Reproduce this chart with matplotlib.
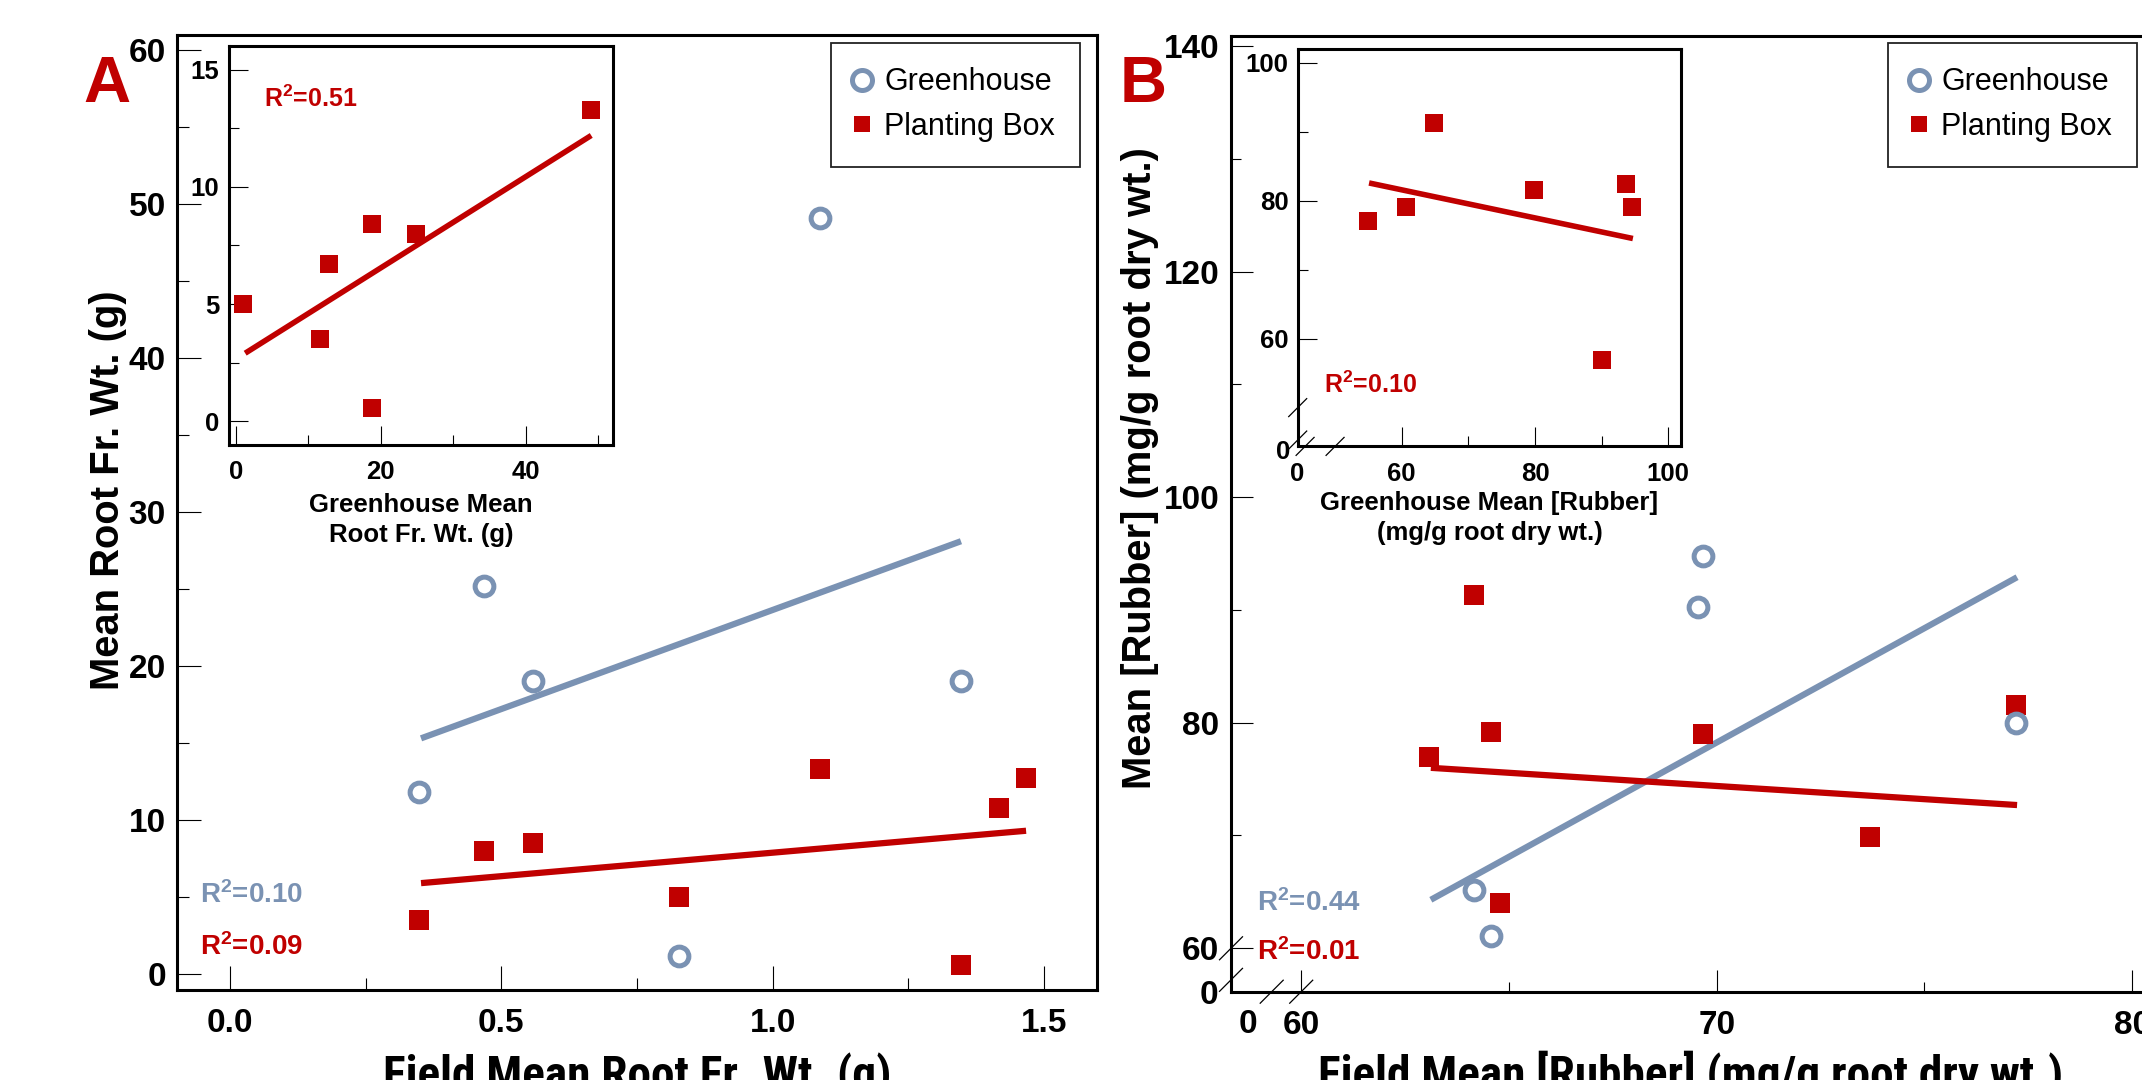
import matplotlib
matplotlib.use("Agg")
import matplotlib.pyplot as plt
from matplotlib.lines import Line2D

W, H = 2142, 1080
BLUE = "#7A92B3"
RED = "#C00000"

# ---- panel A: root fresh weight
A_GH_X = [0.348, 0.468, 0.559, 0.827, 1.087, 1.347]
A_GH_Y = [11.8, 25.2, 19.0, 1.2, 49.1, 19.0]
A_PB_X = [0.348, 0.468, 0.559, 0.827, 1.088, 1.347, 1.418, 1.467]
A_PB_Y = [3.5, 8.0, 8.5, 5.0, 13.3, 0.6, 10.8, 12.7]
A_GH_FIT_X, A_GH_FIT_Y = [0.352, 1.347], [15.3, 28.1]
A_PB_FIT_X, A_PB_FIT_Y = [0.352, 1.467], [5.9, 9.3]
A_IN_X = [1.0, 11.6, 12.8, 18.8, 18.8, 24.9, 48.9]
A_IN_Y = [5.0, 3.5, 6.7, 8.4, 0.55, 8.0, 13.3]
A_IN_FIT_X, A_IN_FIT_Y = [1.3, 49.0], [2.9, 12.2]
A_XTICKS, A_XMINOR = [0.0, 0.5, 1.0, 1.5], [0.25, 0.75, 1.25]
A_YTICKS, A_YMINOR = [0, 10, 20, 30, 40, 50, 60], [5, 15, 25, 35, 45, 55]
A_IN_XTICKS, A_IN_XMINOR = [0, 20, 40], [10, 30, 50]
A_IN_YTICKS, A_IN_YMINOR = [0, 5, 10, 15], [2.5, 7.5, 12.5]

# ---- panel B: rubber concentration
B_GH_X = [64.16, 64.56, 69.55, 69.67, 77.20]
B_GH_Y = [65.2, 61.1, 90.3, 94.8, 80.0]
B_PB_X = [63.07, 64.16, 64.56, 64.79, 69.67, 73.68, 77.20]
B_PB_Y = [77.0, 91.3, 79.2, 64.0, 79.0, 69.9, 81.6]
B_GH_FIT_X, B_GH_FIT_Y = [63.12, 77.23], [64.3, 92.9]
B_PB_FIT_X, B_PB_FIT_Y = [63.12, 77.23], [76.0, 72.7]
B_IN_X = [54.96, 60.71, 64.86, 79.83, 93.65, 94.54, 90.09]
B_IN_Y = [77.0, 79.1, 91.3, 81.5, 82.4, 79.0, 56.9]
B_IN_FIT_X, B_IN_FIT_Y = [55.1, 94.7], [82.55, 74.5]
B_XTICKS, B_XMINOR = [60, 70, 80], [65, 75]
B_YTICKS, B_YMINOR = [60, 80, 100, 120, 140], [70, 90, 110, 130]
B_IN_XTICKS, B_IN_XMINOR = [60, 80, 100], [70, 90]
B_IN_YTICKS, B_IN_YMINOR = [60, 80, 100], [70, 90]

plt.rcParams["font.family"] = ["Liberation Sans", "DejaVu Sans"]
plt.rcParams["font.weight"] = "bold"
plt.rcParams["mathtext.fontset"] = "custom"
plt.rcParams["mathtext.rm"] = "Liberation Sans:bold"
plt.rcParams["mathtext.it"] = "Liberation Sans:bold"
plt.rcParams["mathtext.bf"] = "Liberation Sans:bold"
NARROW = ["Liberation Sans Narrow", "Roboto Condensed", "Barlow Semi Condensed"]

fig = plt.figure(figsize=(W / 100, H / 100), dpi=100)


def box(l, t, r, b):
    return [l / W, 1 - b / H, (r - l) / W, (b - t) / H]


def fx(px):
    return px / W


def fy(py):
    return 1 - py / H


def style(ax, major, minor, size, padx, pady):
    for s in ax.spines.values():
        s.set_linewidth(2.2)
    ax.tick_params(which="both", direction="in", top=False, right=False,
                   width=0.8, labelsize=size)
    ax.tick_params(which="major", length=major)
    ax.tick_params(which="minor", length=minor)
    ax.tick_params(axis="x", pad=padx)
    ax.tick_params(axis="y", pad=pady)


def slash(ax, x, y, half):
    # small "//" axis-break mark centred on a data point of the spine
    xa, ya = ax.transLimits.transform((x, y))
    bb = ax.get_position()
    dx, dy = half / (bb.width * W), half / (bb.height * H)
    ax.plot([xa - dx, xa + dx], [ya - dy, ya + dy], transform=ax.transAxes,
            color="k", lw=0.9, clip_on=False, zorder=5)


def panel(rect, gx, gy, gfx, gfy, px, py, pfx, pfy):
    ax = fig.add_axes(rect)
    ax.plot(gfx, gfy, color=BLUE, lw=4.5, solid_capstyle="butt", zorder=2)
    ax.plot(pfx, pfy, color=RED, lw=4.5, solid_capstyle="butt", zorder=2)
    ax.plot(px, py, ls="none", marker="s", ms=15, mew=0, color=RED, zorder=3)
    ax.plot(gx, gy, ls="none", marker="o", ms=13.5, mew=3.6, mfc="white",
            mec=BLUE, zorder=4)
    return ax


def inset(rect, x, y, fitx, fity):
    ax = fig.add_axes(rect, zorder=3)
    ax.set_facecolor("white")
    ax.plot(fitx, fity, color=RED, lw=4, solid_capstyle="butt", zorder=2)
    ax.plot(x, y, ls="none", marker="s", ms=13, mew=0, color=RED, zorder=3)
    return ax


def legend(ax, left):
    handles = [Line2D([], [], ls="none", marker="o", ms=14.4, mew=3.6, mfc="white", mec=BLUE),
               Line2D([], [], ls="none", marker="s", ms=12.2, mew=0, color=RED)]
    leg = ax.legend(handles, ["Greenhouse", "Planting Box"], loc="upper left",
                    bbox_to_anchor=(fx(left), fy(43)), bbox_transform=fig.transFigure,
                    borderaxespad=0, fancybox=False, framealpha=1, edgecolor="#222222",
                    prop={"size": 22, "weight": "normal"}, handlelength=0.4,
                    handletextpad=0.55, borderpad=0.8, labelspacing=0.48)
    leg.get_frame().set_linewidth(1.3)
    leg.set_zorder(10)


# ================= panel A =================
axA = panel(box(177, 35, 1097, 990), A_GH_X, A_GH_Y, A_GH_FIT_X, A_GH_FIT_Y,
            A_PB_X, A_PB_Y, A_PB_FIT_X, A_PB_FIT_Y)
axA.set_xlim(-0.0977, 1.5977); axA.set_ylim(-1.04, 60.97)
axA.set_xticks(A_XTICKS); axA.set_xticks(A_XMINOR, minor=True)
axA.set_yticks(A_YTICKS); axA.set_yticks(A_YMINOR, minor=True)
axA.set_xticklabels([f"{v:.1f}" for v in A_XTICKS])
style(axA, 17, 8.5, 24, 13, 8)
legend(axA, 831)

axAi = inset(box(228.5, 46, 613, 445), A_IN_X, A_IN_Y, A_IN_FIT_X, A_IN_FIT_Y)
axAi.set_xlim(-1.0, 52.0); axAi.set_ylim(-1.02, 16.02)
axAi.set_xticks(A_IN_XTICKS); axAi.set_xticks(A_IN_XMINOR, minor=True)
axAi.set_yticks(A_IN_YTICKS); axAi.set_yticks(A_IN_YMINOR, minor=True)
style(axAi, 13.5, 7, 18.5, 11, 6.5)
fig.text(fx(421), fy(520), "Greenhouse Mean\nRoot Fr. Wt. (g)", ha="center", va="center",
         fontsize=18.5, linespacing=1.3)

fig.text(fx(264), fy(107), r"R$^{2}$=0.51", color=RED, fontsize=18, va="baseline")
fig.text(fx(200), fy(903), r"R$^{2}$=0.10", color=BLUE, fontsize=20, va="baseline")
fig.text(fx(200), fy(955), r"R$^{2}$=0.09", color=RED, fontsize=20, va="baseline")

fig.text(fx(108), fy(490), "Mean Root Fr. Wt. (g)", rotation=90, ha="center",
         va="center", fontsize=28.8)
fig.text(fx(637), fy(1089), "Field Mean Root Fr. Wt. (g)", ha="center",
         va="baseline", fontsize=34, family=NARROW)
fig.text(fx(107), fy(102), "A", color=RED, fontsize=47, ha="center", va="baseline")

# ================= panel B =================
axB = panel(box(1231, 36, 2160, 991.7), B_GH_X, B_GH_Y, B_GH_FIT_X, B_GH_FIT_Y,
            B_PB_X, B_PB_Y, B_PB_FIT_X, B_PB_FIT_Y)
axB.set_xlim(58.31, 80.67); axB.set_ylim(56.15, 140.89)
axB.set_xticks(B_XTICKS); axB.set_xticks(B_XMINOR, minor=True)
axB.set_yticks(B_YTICKS); axB.set_yticks(B_YMINOR, minor=True)
style(axB, 15.5, 7.5, 24, 13, 8.5)
legend(axB, 1888)
for v in (60.0, 57.2):
    slash(axB, 58.31, v, 11.5)
for v in (59.29, 60.0):
    slash(axB, v, 56.15, 11.5)
fig.text(fx(1218), fy(995), "0", ha="right", va="center", fontsize=24)
fig.text(fx(1248), fy(1009), "0", ha="center", va="top", fontsize=24)

axBi = inset(box(1297.7, 49, 1681, 446.4), B_IN_X, B_IN_Y, B_IN_FIT_X, B_IN_FIT_Y)
axBi.set_xlim(44.39, 101.92); axBi.set_ylim(44.38, 101.96)
axBi.set_xticks(B_IN_XTICKS); axBi.set_xticks(B_IN_XMINOR, minor=True)
axBi.set_yticks(B_IN_YTICKS); axBi.set_yticks(B_IN_YMINOR, minor=True)
style(axBi, 13.5, 7, 18.5, 11, 6.5)
for v in (50.0, 45.3):
    slash(axBi, 44.39, v, 9)
for v in (45.5, 50.0):
    slash(axBi, v, 44.38, 9)
fig.text(fx(1290), fy(451.7), "0", ha="right", va="center", fontsize=18.5)
fig.text(fx(1297.5), fy(462), "0", ha="center", va="top", fontsize=18.5)
fig.text(fx(1489.5), fy(518), "Greenhouse Mean [Rubber]\n(mg/g root dry wt.)", ha="center",
         va="center", fontsize=18.5, linespacing=1.3)

fig.text(fx(1324.3), fy(393.3), r"R$^{2}$=0.10", color=RED, fontsize=18, va="baseline")
fig.text(fx(1257.3), fy(910.7), r"R$^{2}$=0.44", color=BLUE, fontsize=20, va="baseline")
fig.text(fx(1257.3), fy(960), r"R$^{2}$=0.01", color=RED, fontsize=20, va="baseline")

fig.text(fx(1140), fy(468), "Mean [Rubber] (mg/g root dry wt.)", rotation=90, ha="center",
         va="center", fontsize=28.8)
fig.text(fx(1691), fy(1089), "Field Mean [Rubber] (mg/g root dry wt.)", ha="center",
         va="baseline", fontsize=34, family=NARROW)
fig.text(fx(1143.5), fy(102), "B", color=RED, fontsize=47, ha="center", va="baseline")

fig.savefig("out.png", dpi=100)
